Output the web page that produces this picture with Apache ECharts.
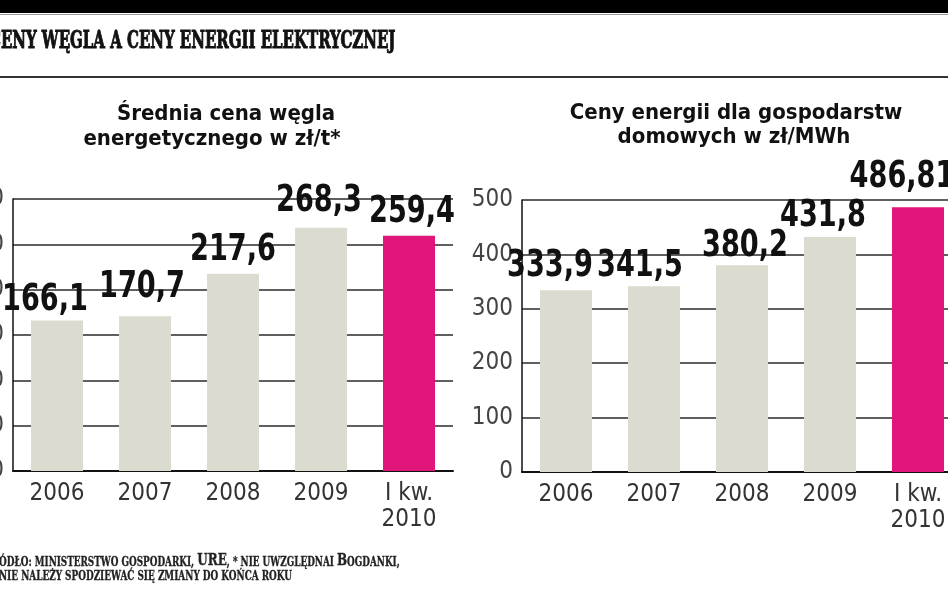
<!DOCTYPE html>
<html>
<head>
<meta charset="utf-8">
<script src="https://cdn.jsdelivr.net/npm/echarts@6/dist/echarts.min.js"></script>
<style>
html,body{margin:0;padding:0;background:#fff;}
#chart{width:948px;height:593px;}
</style>
</head>
<body>
<div id="chart"></div>
<script>
// ---- data ----
const categories = ['2006', '2007', '2008', '2009', 'I kw.\n2010'];
const coalPrice = [166.1, 170.7, 217.6, 268.3, 259.4];      // zł/t
const energyPrice = [333.9, 341.5, 380.2, 431.8, 486.81];   // zł/MWh
const coalAxis = { min: 0, max: 300, interval: 50 };
const energyAxis = { min: 0, max: 500, interval: 100 };

const mainTitle = 'CENY WĘGLA A CENY ENERGII ELEKTRYCZNEJ';
const coalTitle = ['Średnia cena węgla', 'energetycznego w zł/t*'];
const energyTitle = ['Ceny energii dla gospodarstw', 'domowych w zł/MWh'];

// ---- styles ----
const GRAY = '#dcdbcf';
const PINK = '#e0167a';
const COND = "'Liberation Sans Narrow', 'DejaVu Sans Condensed', sans-serif";
const SERIF = "'DejaVu Serif Condensed', 'DejaVu Serif', serif";
const coalLabelOffset = [[-12, 3.5], [-3, -5.5], [0, 0], [-2, -2.5], [3, 0]];
const energyLabelOffset = [[-16, 0], [-14, 3.5], [3, 4.5], [-7, 3.5], [-16, -6]];

const fmt = v => String(v).replace('.', ',');

function barData(values) {
  return values.map((v, i) => ({
    value: v,
    itemStyle: { color: i === values.length - 1 ? PINK : GRAY }
  }));
}

function xAxis(gridIndex) {
  return {
    type: 'category', gridIndex, data: categories,
    axisLine: { lineStyle: { color: '#111', width: 2 } },
    axisTick: { show: false },
    axisLabel: { fontFamily: COND, fontSize: 24, lineHeight: 26, color: '#333', margin: 10, interval: 0 }
  };
}
function yAxis(gridIndex, ax) {
  return {
    type: 'value', gridIndex, min: ax.min, max: ax.max, interval: ax.interval,
    axisLine: { show: true, lineStyle: { color: '#111', width: 1.5 } },
    axisTick: { show: false },
    axisLabel: { fontFamily: COND, fontSize: 24, color: '#444', margin: 9 },
    splitLine: { lineStyle: { color: '#2a2a2a', width: 1.5 } }
  };
}
// value labels drawn through the axes' scales (custom series), horizontally condensed
function labelSeries(gridIndex, values, offsets) {
  return {
    type: 'custom', xAxisIndex: gridIndex, yAxisIndex: gridIndex, z: 10,
    data: values.map((v, i) => [i, v]),
    renderItem: (params, api) => {
      const i = api.value(0), v = api.value(1);
      const p = api.coord([i, v]);
      const off = offsets[i];
      return {
        type: 'text', x: p[0] + off[0], y: p[1] - 5 + off[1], scaleX: 0.795,
        style: { text: fmt(v), font: "bold 38px " + COND, fill: '#111', align: 'center', verticalAlign: 'bottom' }
      };
    }
  };
}

const footerRich = {
  s: { fontFamily: SERIF, fontWeight: 'bold', fontSize: 12.5, lineHeight: 17, verticalAlign: 'bottom', fill: '#222', stroke: '#222', lineWidth: 0.3 },
  b: { fontFamily: SERIF, fontWeight: 'bold', fontSize: 17, lineHeight: 17, verticalAlign: 'bottom', fill: '#222', stroke: '#222', lineWidth: 0.3 }
};

const chart = echarts.init(document.getElementById('chart'), null, { renderer: 'canvas' });
chart.setOption({
  backgroundColor: '#fff',
  animation: false,
  grid: [
    { left: 13, top: 199, width: 440, height: 272, containLabel: false, outerBoundsMode: 'none' },
    { left: 522, top: 200, width: 440, height: 272, containLabel: false, outerBoundsMode: 'none' }
  ],
  xAxis: [xAxis(0), xAxis(1)],
  yAxis: [yAxis(0, coalAxis), yAxis(1, energyAxis)],
  series: [
    { type: 'bar', xAxisIndex: 0, yAxisIndex: 0, barWidth: 52, data: barData(coalPrice) },
    { type: 'bar', xAxisIndex: 1, yAxisIndex: 1, barWidth: 52, data: barData(energyPrice) },
    labelSeries(0, coalPrice, coalLabelOffset),
    labelSeries(1, energyPrice, energyLabelOffset)
  ],
  graphic: [
    { type: 'rect', shape: { x: 0, y: 0, width: 948, height: 13 }, style: { fill: '#000' } },
    { type: 'line', shape: { x1: 0, y1: 14.5, x2: 948, y2: 14.5 }, style: { stroke: '#999', lineWidth: 1 } },
    { type: 'text', x: -11, y: 41, scaleX: 0.665,
      style: { text: mainTitle, font: "bold 25px " + SERIF, fill: '#111', stroke: '#111', lineWidth: 1, align: 'left', verticalAlign: 'middle' } },
    { type: 'line', shape: { x1: 0, y1: 77, x2: 948, y2: 77 }, style: { stroke: '#333', lineWidth: 2 } },
    { type: 'text', x: 226, y: 114.5, style: { text: coalTitle[0], font: "bold 22px " + COND, fill: '#111', align: 'center', verticalAlign: 'middle' } },
    { type: 'text', x: 212, y: 139.5, style: { text: coalTitle[1], font: "bold 22px " + COND, fill: '#111', align: 'center', verticalAlign: 'middle' } },
    { type: 'text', x: 736, y: 113.5, style: { text: energyTitle[0], font: "bold 22px " + COND, fill: '#111', align: 'center', verticalAlign: 'middle' } },
    { type: 'text', x: 734, y: 137.5, style: { text: energyTitle[1], font: "bold 22px " + COND, fill: '#111', align: 'center', verticalAlign: 'middle' } },
    { type: 'text', x: -17, y: 552, scaleX: 0.785,
      style: { text: '{b|Ź}{s|RÓDŁO: MINISTERSTWO GOSPODARKI, }{b|URE}{s|, * NIE UWZGLĘDNAI }{b|B}{s|OGDANKI,}',
               rich: footerRich, align: 'left', verticalAlign: 'top' } },
    { type: 'text', x: -1, y: 566, scaleX: 0.79,
      style: { text: '{s|NIE NALEŻY SPODZIEWAĆ SIĘ ZMIANY DO KOŃCA ROKU}',
               rich: footerRich, align: 'left', verticalAlign: 'top' } }
  ]
});
</script>
</body>
</html>
